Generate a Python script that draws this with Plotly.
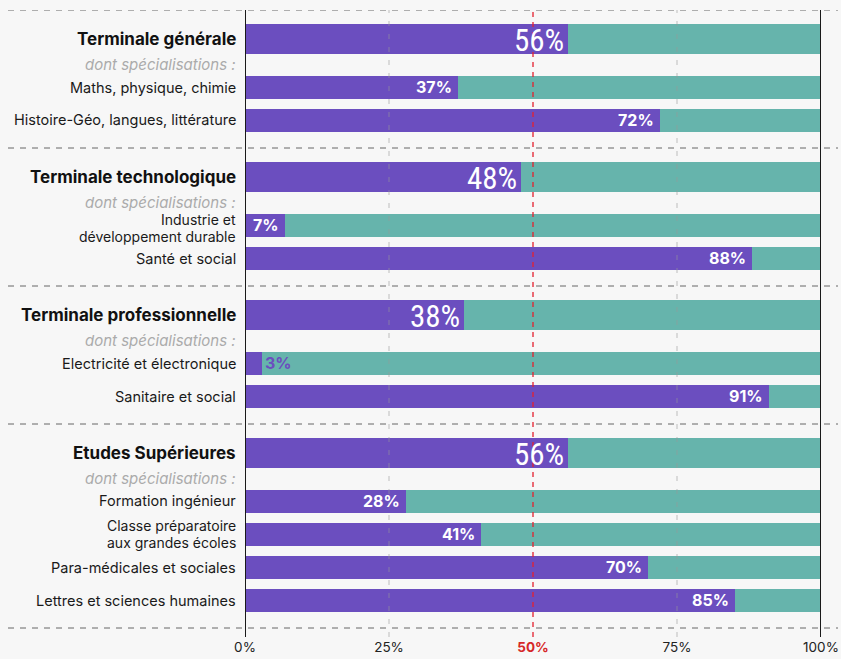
import plotly.graph_objects as go

# ---- data ----
group_labels = ["Terminale générale", "Terminale technologique",
                "Terminale professionnelle", "Etudes Supérieures"]
group_values = [56, 48, 38, 56]
sub_labels = [
    ["Maths, physique, chimie", "Histoire-Géo, langues, littérature"],
    ["Industrie et\ndéveloppement durable", "Santé et social"],
    ["Electricité et électronique", "Sanitaire et social"],
    ["Formation ingénieur", "Classe préparatoire\naux grandes écoles",
     "Para-médicales et sociales", "Lettres et sciences humaines"],
]
sub_values = [[37, 72], [7, 88], [3, 91], [28, 41, 70, 85]]
subtitle = "dont spécialisations :"
tick_vals = [0, 25, 50, 75, 100]
tick_labels = ["0%", "25%", "50%", "75%", "100%"]

# ---- style ----
PURPLE = "#6B4EBF"
TEAL = "#66B4AC"
BG = "#F7F7F7"
W, H = 841, 659
ML, MR, MT, MB = 245, 20, 10, 22
Y_TOP, Y_BOT = MT, H - MB  # y axis uses pixel-like units

# layout spacing (units == px)
SEP_TO_HEAD, HEAD_TO_DONT, DONT_TO_SUB, SUB_PITCH, SUB_TO_SEP = 29, 25, 23, 33, 28
HEAD_W, SUB_W = 30, 23

rows = []  # (y, kind, label, value, first)
seps = [Y_TOP]
y = Y_TOP
for g, gv, sl, sv in zip(group_labels, group_values, sub_labels, sub_values):
    y += SEP_TO_HEAD
    rows.append((y, "head", g, gv, False))
    y += HEAD_TO_DONT
    rows.append((y, "dont", subtitle, None, False))
    y += DONT_TO_SUB
    for i, (l, v) in enumerate(zip(sl, sv)):
        if i > 0:
            y += SUB_PITCH
        rows.append((y, "sub", l, v, i == 0))
    y += SUB_TO_SEP
    seps.append(y)

bar_rows = [r for r in rows if r[1] != "dont"]
ys = [r[0] for r in bar_rows]
vals = [r[3] for r in bar_rows]
widths = [HEAD_W if r[1] == "head" else SUB_W for r in bar_rows]

fig = go.Figure()
fig.add_trace(go.Bar(y=ys, x=vals, orientation="h", width=widths,
                     marker=dict(color=PURPLE, line=dict(width=0)),
                     hoverinfo="skip", showlegend=False))
fig.add_trace(go.Bar(y=ys, x=[100 - v for v in vals], orientation="h", width=widths,
                     marker=dict(color=TEAL, line=dict(width=0)),
                     hoverinfo="skip", showlegend=False))

ann = []
for (yy, kind, label, v, first) in rows:
    lines = label.split("\n")
    n = len(lines)
    nudge = 3 if (n > 1 and first) else 0
    for k, line in enumerate(lines):
        off = (k - (n - 1) / 2) * 17 + nudge
        if kind == "head":
            font = dict(family="Inter, Roboto, sans-serif", size=17, color="#111")
            txt = "<b>" + line + "</b>"
        elif kind == "dont":
            font = dict(family="Inter, Roboto, sans-serif", size=15, color="#ABABAB")
            txt = "<i>" + line + "</i>"
        else:
            font = dict(family="Inter, Roboto, sans-serif", size=14.5 if n == 1 else 14,
                        color="#1A1A1A")
            txt = line
        ann.append(dict(x=0, xref="paper", y=yy + off, yref="y", text=txt,
                        xanchor="right", yanchor="middle", xshift=-7,
                        showarrow=False, font=font))
    if v is None:
        continue
    if kind == "head":
        ann.append(dict(x=v, xref="x", y=yy, yref="y", text=f"{v}%",
                        xanchor="right", yanchor="middle", xshift=-2, yshift=-1,
                        showarrow=False,
                        font=dict(family="Liberation Sans Narrow, Roboto Condensed, DejaVu Sans Condensed, sans-serif",
                                  size=31, color="white")))
    else:
        if v < 5:
            ann.append(dict(x=v, xref="x", y=yy, yref="y", text=f"<b>{v}%</b>",
                            xanchor="left", yanchor="middle", xshift=1,
                            showarrow=False,
                            font=dict(family="Inter, Roboto, sans-serif", size=16, color=PURPLE)))
        else:
            ann.append(dict(x=v, xref="x", y=yy, yref="y", text=f"<b>{v}%</b>",
                            xanchor="right", yanchor="middle", xshift=-4,
                            showarrow=False,
                            font=dict(family="Inter, Roboto, sans-serif", size=16, color="white")))

shapes = []
plot_w = W - ML - MR
for s in seps:
    shapes.append(dict(type="line", xref="paper", yref="y",
                       x0=(8 - ML) / plot_w, x1=(W - 3 - ML) / plot_w, y0=s, y1=s,
                       line=dict(color="#666", width=1, dash="6px,6px"), layer="above"))
for tv in [25, 75]:
    shapes.append(dict(type="line", xref="x", yref="paper", x0=tv, x1=tv, y0=0, y1=1,
                       line=dict(color="#999", width=1, dash="5px,8px"), layer="above",
                       opacity=0.6))
shapes.append(dict(type="line", xref="x", yref="paper", x0=50, x1=50, y0=0, y1=1,
                   line=dict(color="#E4202E", width=1.3, dash="5px,5px"), layer="above"))
for tv in [0, 100]:
    shapes.append(dict(type="line", xref="x", yref="paper", x0=tv, x1=tv, y0=0, y1=1,
                       line=dict(color="#1A1A1A", width=2), layer="above"))

ticktext = [("<b><span style='color:#D62828'>" + t + "</span></b>") if v == 50 else t
            for v, t in zip(tick_vals, tick_labels)]

fig.update_layout(
    width=W, height=H, autosize=False,
    margin=dict(l=ML, r=MR, t=MT, b=MB, pad=0, autoexpand=False),
    paper_bgcolor=BG, plot_bgcolor=BG,
    barmode="stack", bargap=0,
    annotations=ann, shapes=shapes,
    xaxis=dict(range=[0, 100], tickvals=tick_vals, ticktext=ticktext, automargin=False,
               showgrid=False, zeroline=False, showline=False, ticks="",
               tickfont=dict(family="Inter, Roboto, sans-serif", size=13.5, color="#222"),
               fixedrange=True),
    yaxis=dict(range=[Y_BOT, Y_TOP], showgrid=False, zeroline=False, showline=False,
               showticklabels=False, ticks="", fixedrange=True, automargin=False),
)

post = (
    "document.documentElement.style.margin='0';"
    "document.documentElement.style.overflow='hidden';"
    "document.body.style.margin='0';"
    "document.body.style.overflow='hidden';"
    "document.body.style.background='%s';"
    "var d=document.querySelector('.plotly-graph-div');"
    "if(d){var p=d.parentElement;p.style.position='absolute';p.style.left='0px';p.style.top='0px';}"
) % BG

fig.write_html("out.html", config={"displayModeBar": False, "responsive": False},
               post_script=post)
